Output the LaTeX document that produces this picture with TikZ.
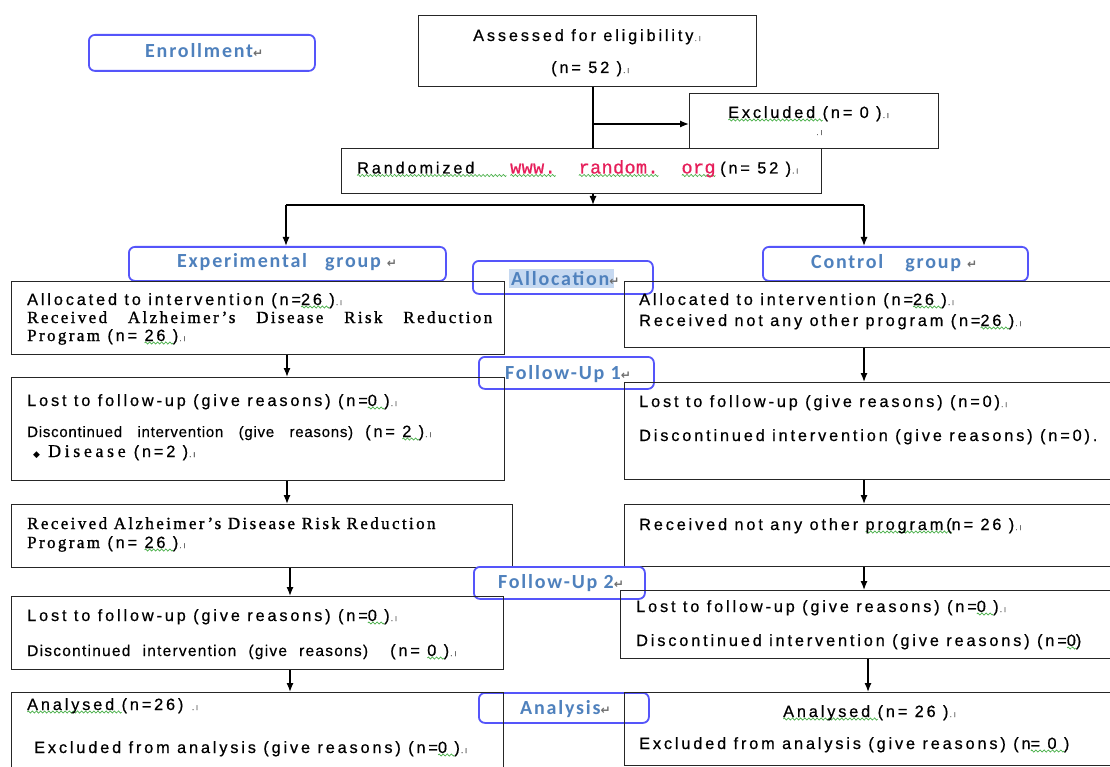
\documentclass[tikz,border=0pt]{standalone}
\usepackage{fontspec}
\usetikzlibrary{arrows.meta,calc}
\newfontfamily\sansW{Liberation Sans}[LetterSpace=17.5,FakeBold=0.6]
\newfontfamily\sansN{Liberation Sans}[LetterSpace=5,FakeBold=0.4]
\newfontfamily\sansM{Liberation Sans}[LetterSpace=8,FakeBold=0.4]
\newfontfamily\serifW{Liberation Serif}[LetterSpace=14,FakeBold=1.2]
\newfontfamily\serifD{Liberation Serif}[LetterSpace=20,FakeBold=0.6]
\newfontfamily\lblfont{Carlito}[LetterSpace=9]
\newfontfamily\djv{DejaVu Sans}
\newfontfamily\monoR{Liberation Mono}[LetterSpace=2,FakeBold=0.8]
\definecolor{lblblue}{RGB}{79,129,189}
\definecolor{lblborder}{RGB}{85,85,250}
\definecolor{hlblue}{RGB}{198,217,241}
\definecolor{spellgreen}{RGB}{70,175,70}
\definecolor{urlred}{RGB}{230,30,90}
\definecolor{pmgray}{RGB}{110,110,110}
\newsavebox\wavebox
\newsavebox\spbox
\newcommand\spell[1]{\sbox\spbox{#1}\rlap{\hbox to \wd\spbox{\xleaders\hbox{\lower3.5pt\copy\wavebox}\hfil}}\usebox\spbox}
\newcommand\pmk{{\color{pmgray}\fontsize{9}{9}\selectfont\kern1pt.\kern1.5pt ı}}
\newcommand\ret{{\color{pmgray}\djv\fontsize{12}{12}\selectfont ↵}}
\tikzset{
  box/.style={draw=black!85, line width=1.3pt, inner sep=0pt, anchor=north west},
  lbl/.style={draw=lblborder, line width=1.8pt, rounded corners=6pt, inner sep=0pt, anchor=north west},
  txt/.style={anchor=base west, inner sep=0pt, font=\sansW\fontsize{16.3}{19}\selectfont},
  lbltxt/.style={anchor=base west, inner sep=0pt, text=lblblue, font=\lblfont\bfseries\fontsize{20}{22}\selectfont},
  arr/.style={line width=1.3pt, -{Latex[length=9pt,width=7pt]}},
  ln/.style={line width=1.3pt},
}
\begin{document}
\sbox\wavebox{\begin{pgfpicture}\pgfpathrectangle{\pgfpoint{0pt}{-1.5pt}}{\pgfpoint{4pt}{3pt}}\pgfusepath{use as bounding box}\pgfsetlinewidth{0.7pt}\pgfsetstrokecolor{spellgreen}\pgfpathmoveto{\pgfpoint{0pt}{0pt}}\pgfpathcurveto{\pgfpoint{0.7pt}{1.4pt}}{\pgfpoint{1.3pt}{1.4pt}}{\pgfpoint{2pt}{0pt}}\pgfpathcurveto{\pgfpoint{2.7pt}{-1.4pt}}{\pgfpoint{3.3pt}{-1.4pt}}{\pgfpoint{4pt}{0pt}}\pgfusepath{stroke}\end{pgfpicture}}%
\begin{tikzpicture}[x=1pt,y=-1pt]
\useasboundingbox (0,0) rectangle (1110,767);
\clip (0,0) rectangle (1110,767);
\fill[white] (0,0) rectangle (1110,767);

% ---------- boxes ----------
\node[lbl, minimum width=226pt, minimum height=36pt] (enroll) at (88,34) {};
\node[box, minimum width=338pt, minimum height=71pt] (assess) at (418,15) {};
\node[box, minimum width=249pt, minimum height=55pt] (excl) at (689,93) {};
\node[box, minimum width=480pt, minimum height=45pt] (rand) at (341,148) {};
\node[lbl, minimum width=317pt, minimum height=34pt] (expg) at (128,246) {};
\node[lbl, minimum width=265pt, minimum height=34pt] (ctrlg) at (762,246) {};
\fill[hlblue] (509,269) rectangle (614,288);
\node[lbl, minimum width=180pt, minimum height=33pt] (alloc) at (472,260) {};
\node[box, minimum width=493pt, minimum height=73pt] (e1) at (11,281) {};
\node[box, minimum width=500pt, minimum height=66pt] (c1) at (624,281) {};
\node[lbl, minimum width=175pt, minimum height=32pt] (fu1) at (478,356) {};
\node[box, minimum width=493pt, minimum height=103pt] (e2) at (11,377) {};
\node[box, minimum width=500pt, minimum height=97pt] (c2) at (624,382) {};
\node[box, minimum width=501pt, minimum height=63pt] (e3) at (11,504) {};
\node[box, minimum width=500pt, minimum height=62pt] (c3) at (624,504) {};
\node[lbl, minimum width=171pt, minimum height=32pt] (fu2) at (473,566) {};
\node[box, minimum width=492pt, minimum height=73pt] (e4) at (11,596) {};
\node[box, minimum width=500pt, minimum height=68pt] (c4) at (620,590) {};
\node[lbl, minimum width=170pt, minimum height=30pt] (anl) at (478,692) {};
\node[box, minimum width=492pt, minimum height=90pt] (e5) at (11,692) {};
\node[box, minimum width=500pt, minimum height=73pt] (c5) at (624,692) {};

% ---------- connectors ----------
\coordinate (vx) at (593,124);
\coordinate (split) at (593,205);
\coordinate (lx) at (286,205);
\coordinate (rx) at (864,205);
\coordinate (lc) at (287,0);
\coordinate (lc2) at (290,0);
\coordinate (rc) at (864,0);
\coordinate (rc2) at (868,0);
\draw[ln] (assess.south -| vx) -- (rand.north -| vx);
\draw[arr] (vx) -- (excl.west |- vx);
\draw[arr] (rand.south -| split) -- (split);
\draw[ln] (lx) -- (rx);
\draw[arr] (lx) -- (expg.north -| lx);
\draw[arr] (rx) -- (ctrlg.north -| rx);
\draw[arr] (e1.south -| lc) -- (e2.north -| lc);
\draw[arr] (e2.south -| lc) -- (e3.north -| lc);
\draw[arr] (e3.south -| lc2) -- (e4.north -| lc2);
\draw[arr] (e4.south -| lc2) -- (e5.north -| lc2);
\draw[arr] (c1.south -| rc) -- (c2.north -| rc);
\draw[arr] (c2.south -| rc) -- (c3.north -| rc);
\draw[arr] (c3.south -| rc) -- (c4.north -| rc);
\draw[arr] (c4.south -| rc2) -- (c5.north -| rc2);

% ---------- labels ----------
\node[lbltxt] (tenroll) at (145,58) {Enrollment\ret};
\node[lbltxt] (texpg) at (177,268) {Experimental\hspace{18pt}group\hspace{6pt}\ret};
\node[lbltxt] (tctrlg) at (811,269) {Control\hspace{22pt}group\hspace{6pt}\ret};
\node[lbltxt] (talloc) at (511,285) {Allocation\ret};
\node[lbltxt] (tfu1) at (505,379) {Follow-Up 1\ret};
\node[lbltxt] (tfu2) at (498,588) {Follow-Up 2\ret};
\node[lbltxt] (tanl) at (520,714) {Analysis\ret};

% ---------- enrollment texts ----------
\node[txt] (ta1) at (473,41) {Assessed for eligibility\pmk};
\node[txt] (ta2) at (551,73) {(n= 52 )\pmk};
\node[txt] (tx1) at (728,118) {\spell{Excluded }(n= 0 )\pmk};
\node[txt] (tx2) at (815,135) {\pmk};
\node[txt] (tr1) at (357,173.5) {\spell{Randomized\hspace{32pt}}};
\node[txt, font=\monoR\fontsize{18.5}{20}\selectfont, text=urlred] (tr2) at (510,173.5) {\spell{www.}\ \ \spell{random.}\ \ \spell{org}};
\node[txt] (tr3) at (720,173.5) {(n= 52 )\pmk};

% ---------- experimental column ----------
\node[txt] (te11) at (27,305) {Allocated to intervention (n=\spell{26 })\pmk};
\node[txt] (te12) at (27,323) {\makebox[465pt][s]{\serifW\fontsize{17}{19}\selectfont Received Alzheimer’s Disease Risk Reduction}};
\node[txt] (te13) at (27,341) {{\serifW\fontsize{17}{19}\selectfont Program} (n= \spell{26 })\pmk};

\node[txt] (te21) at (27,406) {Lost to follow-up (give reasons) (n=\spell{0 })\pmk};
\node[txt] (te22) at (27,437) {\makebox[326pt][s]{\sansN\fontsize{15}{17}\selectfont Discontinued intervention (give reasons)}\hspace{12pt}(n= \spell{2 })\pmk};
\node[txt] (te23) at (33,457) {{\djv\fontsize{9}{9}\selectfont ◆}\hspace{8pt}{\serifD\fontsize{18}{20}\selectfont Disease}\hspace{8pt}(n=2 )\pmk};

\node[txt] (te31) at (27,529) {\serifW\fontsize{17}{19}\selectfont Received Alzheimer’s Disease Risk Reduction};
\node[txt] (te32) at (27,548) {{\serifW\fontsize{17}{19}\selectfont Program} (n= \spell{26 })\pmk};

\node[txt] (te41) at (27,621) {Lost to follow-up (give reasons) (n=\spell{0 })\pmk};
\node[txt] (te42) at (27,656) {\makebox[341pt][s]{\sansM\fontsize{15.5}{17}\selectfont Discontinued intervention (give reasons)}\hspace{22pt}(n= \spell{0 })\pmk};

\node[txt] (te51) at (27,710) {\spell{Analysed }(n=26) \pmk};
\node[txt] (te52) at (34,753) {Excluded from analysis (give reasons) (n=\spell{0 })\pmk};

% ---------- control column ----------
\node[txt] (tc11) at (639,305) {Allocated to intervention (n=\spell{26 })\pmk};
\node[txt] (tc12) at (639,326) {Received not any other program (n=\spell{26 })\pmk};
\node[txt] (tc21) at (639,407) {Lost to follow-up (give reasons) (n=0)\pmk};
\node[txt] (tc22) at (639,441) {Discontinued intervention (give reasons) (n=0).};
\node[txt] (tc31) at (639,530) {Received not any other \spell{program(}n= 26 )\pmk};
\node[txt] (tc41) at (636,612) {Lost to follow-up (give reasons) (n=\spell{0 })\pmk};
\node[txt] (tc42) at (636,646) {Discontinued intervention (give reasons) (n=\spell{0})};
\node[txt] (tc51) at (783,717) {\spell{Analysed }(n= 26 )\pmk};
\node[txt] (tc52) at (639,749) {Excluded from analysis (give reasons) (n\spell{= 0 })};
\end{tikzpicture}
\end{document}
